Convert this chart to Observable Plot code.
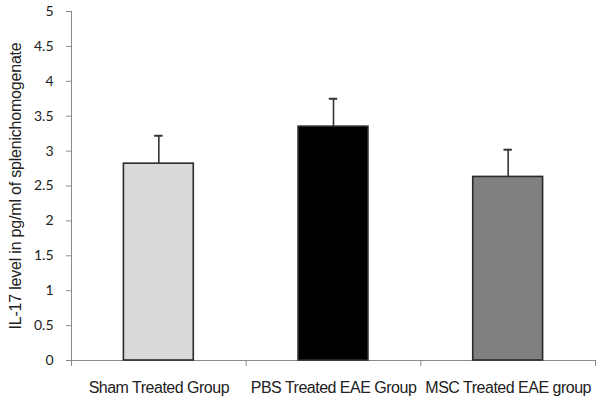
<!DOCTYPE html>
<html>
<head>
<meta charset="utf-8">
<script src="https://cdn.jsdelivr.net/npm/d3@7"></script>
<script src="https://cdn.jsdelivr.net/npm/@observablehq/plot@0.6"></script>
<style>
  html, body { margin: 0; padding: 0; background: #fff; }
  .chart g[aria-label="x-axis tick label"] { letter-spacing: -0.5px; }
  .chart g.ytitle { letter-spacing: -0.2px; }
</style>
</head>
<body>
<div id="chart"></div>
<script>
const categories = ["Sham Treated Group", "PBS Treated EAE Group", "MSC Treated EAE group"];
const means = [2.82, 3.35, 2.63];
const errors = [0.40, 0.40, 0.39];
const fills = ["#d9d9d9", "#000000", "#808080"];
const yTicks = [0, 0.5, 1, 1.5, 2, 2.5, 3, 3.5, 4, 4.5, 5];
const yLabel = "IL-17 level in pg/ml of splenichomogenate";

const data = categories.map((c, i) => ({ c, i, mean: means[i], err: errors[i], fill: fills[i] }));
const half = 0.2;     // half bar width in band units
const cap = 0.024;    // half cap width in band units
const axisGray = "#8a8a8a";
const sans = "'Liberation Sans', Arial, sans-serif";

const chart = Plot.plot({
  width: 600,
  height: 405,
  marginLeft: 71,
  marginRight: 5,
  marginTop: 11,
  marginBottom: 45,
  className: "chart",
  x: { domain: [0, categories.length], axis: null },
  y: { domain: [0, 5], axis: null },
  color: { type: "identity" },
  style: { fontFamily: sans, background: "#fff", color: "#222" },
  marks: [
    Plot.axisY({
      ticks: yTicks,
      tickSize: 5,
      tickPadding: 13,
      tickFormat: d => String(d),
      stroke: axisGray,
      fontSize: 14,
      fontFamily: "Lato, 'Open Sans', sans-serif",
      fill: "#222",
      label: null
    }),
    Plot.text([yLabel], {
      text: d => d,
      frameAnchor: "left",
      dx: -56,
      rotate: -90,
      textAnchor: "middle",
      lineAnchor: "middle",
      fontSize: 16,
      fill: "#222",
      className: "ytitle"
    }),
    Plot.axisX({
      ticks: d3.range(categories.length + 1),
      tickSize: 6,
      tickFormat: () => "",
      stroke: axisGray
    }),
    Plot.axisX({
      ticks: categories.map((c, i) => i + 0.5),
      tickSize: 0,
      tickPadding: 21,
      tickFormat: v => categories[Math.floor(v)],
      fontSize: 16,
      fill: "#222"
    }),
    Plot.ruleX([0], { stroke: axisGray, y1: 0, y2: 5 }),
    Plot.ruleY([0], { stroke: axisGray }),
    Plot.rectY(data, {
      x1: d => d.i + 0.5 - half,
      x2: d => d.i + 0.5 + half,
      y: "mean",
      fill: "fill",
      stroke: "#2a2a2a",
      strokeWidth: 1.6
    }),
    Plot.ruleX(data, {
      x: d => d.i + 0.5,
      y1: "mean",
      y2: d => d.mean + d.err,
      stroke: "#333",
      strokeWidth: 1.6
    }),
    Plot.ruleY(data, {
      y: d => d.mean + d.err,
      x1: d => d.i + 0.5 - cap,
      x2: d => d.i + 0.5 + cap,
      stroke: "#333",
      strokeWidth: 2
    })
  ]
});
document.getElementById("chart").appendChild(chart);
</script>
</body>
</html>
